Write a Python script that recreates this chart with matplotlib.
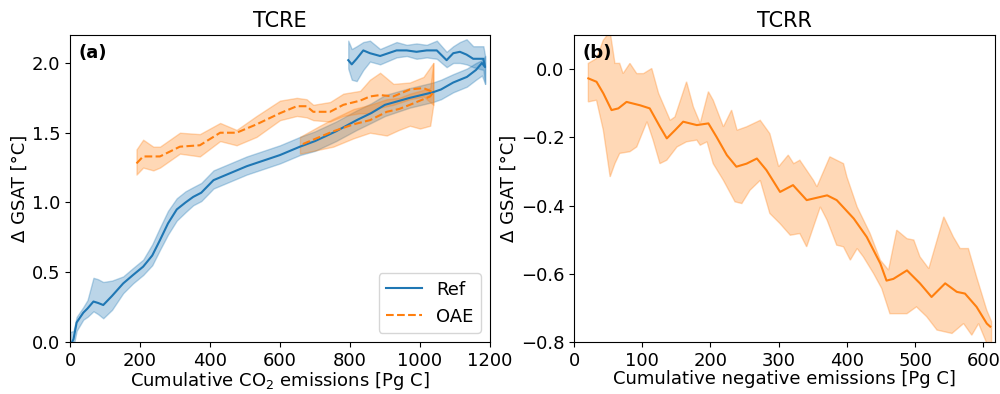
import numpy as np
import matplotlib
matplotlib.use('Agg')
import matplotlib.pyplot as plt
from matplotlib.ticker import MultipleLocator

# TCRE: Ref run, ramp-up then back down along the top
ref_x = [0, 10, 19, 38, 50, 67, 80, 95, 120, 152, 180, 209, 235, 257, 280, 305, 330, 352, 375, 410, 505, 600, 657,
         700, 760, 819, 860, 900, 971, 1037, 1060, 1095, 1134, 1160, 1177, 1186,
         1181, 1152, 1133, 1114, 1095, 1076, 1048, 1019, 990, 962, 933, 886, 857, 838, 819, 805, 795]
ref_y = [-0.03, 0.02, 0.14, 0.21, 0.24, 0.29, 0.28, 0.265, 0.33, 0.42, 0.48, 0.54, 0.62, 0.73, 0.85, 0.95, 1.00, 1.04, 1.07, 1.16, 1.26, 1.34, 1.40,
         1.44, 1.51, 1.59, 1.64, 1.70, 1.75, 1.79, 1.81, 1.86, 1.90, 1.95, 2.00, 1.97,
         2.03, 2.03, 2.06, 2.08, 2.07, 2.02, 2.09, 2.09, 2.08, 2.09, 2.09, 2.05, 2.07, 2.09, 2.03, 1.99, 2.02]
ref_lo = [-0.10, -0.03, 0.08, 0.16, 0.18, 0.22, 0.20, 0.17, 0.23, 0.35, 0.42, 0.48, 0.55, 0.66, 0.77, 0.87, 0.93, 0.98, 1.01, 1.10, 1.20, 1.28, 1.34,
          1.37, 1.44, 1.52, 1.57, 1.62, 1.68, 1.72, 1.74, 1.79, 1.83, 1.88, 1.91, 1.85,
          1.95, 1.97, 1.99, 2.00, 2.00, 1.97, 2.03, 2.04, 2.03, 2.05, 2.04, 1.99, 2.01, 1.95, 1.87, 1.88, 1.96]
ref_hi = [0.07, 0.08, 0.18, 0.25, 0.30, 0.46, 0.45, 0.43, 0.44, 0.47, 0.53, 0.59, 0.70, 0.82, 0.94, 1.03, 1.08, 1.11, 1.14, 1.23, 1.33, 1.41, 1.47,
          1.51, 1.58, 1.66, 1.71, 1.77, 1.82, 1.86, 1.88, 1.92, 1.96, 2.00, 2.02, 2.05,
          2.12, 2.12, 2.17, 2.15, 2.12, 2.08, 2.16, 2.13, 2.14, 2.13, 2.15, 2.10, 2.16, 2.15, 2.12, 2.10, 2.16]

# TCRE: OAE run, out along the upper track and back along the lower one
oae_x = [190, 209, 238, 257, 314, 371, 429, 476, 533, 600, 648, 676, 695, 743, 781, 829, 857, 886, 924, 971, 1010, 1038,
         1029, 1000, 971, 940, 905, 857, 810, 752, 714, 657]
oae_y = [1.28, 1.33, 1.33, 1.33, 1.40, 1.41, 1.50, 1.50, 1.56, 1.64, 1.69, 1.69, 1.65, 1.65, 1.70, 1.73, 1.76, 1.77, 1.76, 1.81, 1.82, 1.79,
         1.76, 1.73, 1.70, 1.67, 1.65, 1.59, 1.56, 1.51, 1.47, 1.41]
oae_lo = [1.20, 1.25, 1.23, 1.25, 1.35, 1.33, 1.44, 1.41, 1.47, 1.59, 1.62, 1.61, 1.59, 1.58, 1.62, 1.64, 1.64, 1.68, 1.70, 1.74, 1.76, 1.70,
          1.55, 1.53, 1.55, 1.52, 1.48, 1.50, 1.46, 1.40, 1.38, 1.35]
oae_hi = [1.38, 1.45, 1.40, 1.40, 1.50, 1.49, 1.57, 1.52, 1.62, 1.73, 1.75, 1.74, 1.70, 1.72, 1.78, 1.80, 1.88, 1.93, 1.85, 1.86, 1.90, 2.00,
          1.82, 1.80, 1.78, 1.75, 1.74, 1.70, 1.67, 1.60, 1.55, 1.47]

# TCRR: OAE mean and spread
tcrr_x = [21, 33, 43, 55, 65, 77, 97, 111, 126, 136, 148, 160, 180, 197, 209, 224, 238, 253, 268, 282, 302, 321,
          341, 371, 385, 410, 429, 449, 458, 468, 488, 507, 524, 544, 561, 573, 590, 605, 610]
tcrr_y = [-0.027, -0.037, -0.071, -0.12, -0.115, -0.096, -0.106, -0.115, -0.169, -0.203, -0.179, -0.154, -0.164,
          -0.159, -0.199, -0.252, -0.286, -0.277, -0.262, -0.296, -0.36, -0.34, -0.384, -0.37, -0.384, -0.438,
          -0.492, -0.57, -0.62, -0.615, -0.59, -0.628, -0.668, -0.628, -0.653, -0.658, -0.697, -0.746, -0.755]
tcrr_up_x = [21, 33, 43, 53, 60, 67, 72, 82, 92, 102, 114, 124, 141, 148, 165, 175, 185, 197, 204, 219, 231, 239,
             253, 273, 287, 300, 314, 322, 331, 351, 356, 375, 395, 400, 415, 434, 449, 461, 473, 488, 498, 507,
             520, 542, 556, 566, 578, 590, 605, 612]
tcrr_up = [0.017, 0.031, 0.085, 0.11, 0.017, 0.017, -0.013, 0.017, -0.013, -0.013, 0.002, -0.071, -0.150, -0.140,
           -0.037, -0.111, -0.159, -0.066, -0.091, -0.169, -0.120, -0.179, -0.169, -0.150, -0.189, -0.286, -0.252,
           -0.277, -0.267, -0.326, -0.345, -0.257, -0.277, -0.316, -0.404, -0.482, -0.560, -0.589, -0.472, -0.497,
           -0.501, -0.550, -0.585, -0.433, -0.492, -0.526, -0.526, -0.609, -0.707, -0.74]
tcrr_lo_x = [21, 33, 43, 53, 60, 67, 82, 92, 107, 116, 126, 136, 151, 165, 180, 185, 195, 204, 219, 236, 246, 258,
             273, 287, 302, 317, 331, 341, 361, 371, 385, 395, 405, 415, 424, 439, 451, 463, 488, 502, 517, 532,
             554, 571, 583, 593, 605, 612]
tcrr_lo = [-0.096, -0.091, -0.179, -0.316, -0.277, -0.247, -0.242, -0.228, -0.154, -0.208, -0.277, -0.267, -0.228,
           -0.213, -0.208, -0.223, -0.213, -0.277, -0.326, -0.389, -0.394, -0.355, -0.326, -0.423, -0.453, -0.487,
           -0.482, -0.521, -0.404, -0.443, -0.516, -0.521, -0.560, -0.526, -0.550, -0.599, -0.643, -0.717, -0.717,
           -0.697, -0.726, -0.765, -0.775, -0.746, -0.780, -0.746, -0.804, -0.83]


def split_at_turn(x, *cols):
    # break a path that runs out and back into two monotonic pieces
    k = int(np.argmax(x))
    pieces = []
    for sl in (slice(0, k + 1), slice(k, None)):
        pieces.append([np.asarray(c)[sl] for c in (x,) + cols])
    return pieces


plt.rcParams['font.size'] = 13
fig = plt.figure(figsize=(10, 3.94), dpi=100)
ax1 = fig.add_axes([0.07, 0.132, 0.42, 0.779])
ax2 = fig.add_axes([0.574, 0.132, 0.421, 0.779])

for x, lo, hi in split_at_turn(ref_x, ref_lo, ref_hi):
    ax1.fill_between(x, lo, hi, color='C0', alpha=0.3, lw=1)
for x, lo, hi in split_at_turn(oae_x, oae_lo, oae_hi):
    ax1.fill_between(x, lo, hi, color='C1', alpha=0.3, lw=1)
ax1.plot(ref_x, ref_y, color='C0', lw=1.5, label='Ref')
ax1.plot(oae_x, oae_y, color='C1', lw=1.5, ls='--', label='OAE')
ax1.set_xlim(0, 1200)
ax1.set_ylim(0, 2.2)
ax1.yaxis.set_major_locator(MultipleLocator(0.5))
ax1.set_title('TCRE', fontsize=15)
ax1.set_xlabel('Cumulative CO$_2$ emissions [Pg C]', labelpad=0)
ax1.set_ylabel('Δ GSAT [°C]', labelpad=2)
ax1.legend(loc='lower right')
ax1.text(0.02, 0.97, '(a)', transform=ax1.transAxes, fontweight='bold', va='top')

band_x = np.concatenate([tcrr_up_x, tcrr_lo_x[::-1]])
band_y = np.concatenate([tcrr_up, tcrr_lo[::-1]])
ax2.fill(band_x, band_y, color='C1', alpha=0.3, lw=1)
ax2.plot(tcrr_x, tcrr_y, color='C1', lw=1.5)
ax2.set_xlim(0, 617)
ax2.set_ylim(-0.8, 0.1)
ax2.yaxis.set_major_locator(MultipleLocator(0.2))
ax2.set_title('TCRR', fontsize=15)
ax2.set_xlabel('Cumulative negative emissions [Pg C]', labelpad=0)
ax2.set_ylabel('Δ GSAT [°C]', labelpad=2)
ax2.text(0.02, 0.97, '(b)', transform=ax2.transAxes, fontweight='bold', va='top')

fig.savefig('out.png', dpi=100)
